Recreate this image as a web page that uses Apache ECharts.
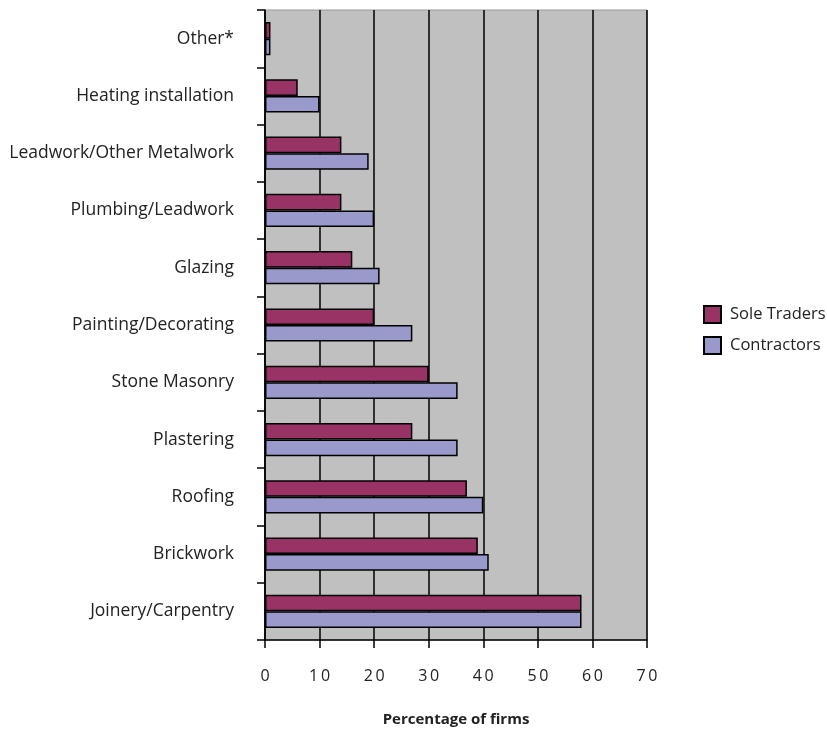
<!DOCTYPE html>
<html>
<head>
<meta charset="utf-8">
<script src="https://cdn.jsdelivr.net/npm/echarts@6/dist/echarts.min.js"></script>
<style>
  html, body { margin: 0; padding: 0; background: #fff; }
  #chart { width: 827px; height: 729px; }
</style>
</head>
<body>
<div id="chart"></div>
<script>
// Trades, listed bottom to top as drawn on the category axis
const trades = [
  'Joinery/Carpentry', 'Brickwork', 'Roofing', 'Plastering', 'Stone Masonry',
  'Painting/Decorating', 'Glazing', 'Plumbing/Leadwork',
  'Leadwork/Other Metalwork', 'Heating installation', 'Other*'
];
// Percentage of firms offering each trade
const soleTraders = [58, 39, 37, 27, 30, 20, 16, 14, 14, 6, 1];
const contractors = [58, 41, 40, 35.3, 35.3, 27, 21, 20, 19, 10, 1];
const xTicks = [0, 10, 20, 30, 40, 50, 60, 70];

const FONT = '"Open Sans", "Noto Sans", sans-serif';
const chart = echarts.init(document.getElementById('chart'), null, { renderer: 'canvas' });

chart.setOption({
  animation: false,
  backgroundColor: '#ffffff',
  grid: {
    left: 265, right: 180, top: 10, bottom: 89,
    outerBoundsMode: 'none',
    containLabel: false,
    show: true, backgroundColor: '#c0c0c0', borderColor: '#999999', borderWidth: 1
  },
  legend: {
    orient: 'vertical',
    left: 698, top: 300,
    data: ['Sole Traders', 'Contractors'],
    icon: 'rect',
    itemWidth: 17, itemHeight: 17, itemGap: 12,
    textStyle: { fontFamily: FONT, fontSize: 16.5, color: '#222', padding: [0, 0, 0, 4] }
  },
  xAxis: {
    type: 'value',
    min: xTicks[0], max: xTicks[xTicks.length - 1], interval: 10,
    name: 'Percentage of firms',
    nameLocation: 'middle', nameGap: 72,
    nameTextStyle: { fontFamily: FONT, fontSize: 15, fontWeight: 'bold', color: '#222' },
    axisLine: { show: true, lineStyle: { color: '#000', width: 1.5 } },
    axisTick: { show: true, length: 8, lineStyle: { color: '#000', width: 1.5 } },
    axisLabel: {
      margin: 28, fontFamily: FONT, fontSize: 16, color: '#222',
      formatter: v => String(v).split('').join('\u2009')
    },
    splitLine: { show: true, lineStyle: { color: '#000', width: 1.5 } }
  },
  yAxis: {
    type: 'category',
    data: trades,
    axisLine: { show: true, lineStyle: { color: '#000', width: 1.5 } },
    axisTick: { show: true, length: 8, lineStyle: { color: '#000', width: 1.5 } },
    axisLabel: { margin: 31, fontFamily: FONT, fontSize: 17.5, color: '#222' },
    splitLine: { show: false }
  },
  series: [
    {
      name: 'Sole Traders', type: 'bar', data: soleTraders,
      barGap: '0%', barCategoryGap: '42%',
      itemStyle: { color: '#993366', borderColor: '#000', borderWidth: 1.5 }
    },
    {
      name: 'Contractors', type: 'bar', data: contractors,
      barGap: '0%', barCategoryGap: '42%',
      itemStyle: { color: '#9999cc', borderColor: '#000', borderWidth: 1.5 }
    }
  ]
});
</script>
</body>
</html>
